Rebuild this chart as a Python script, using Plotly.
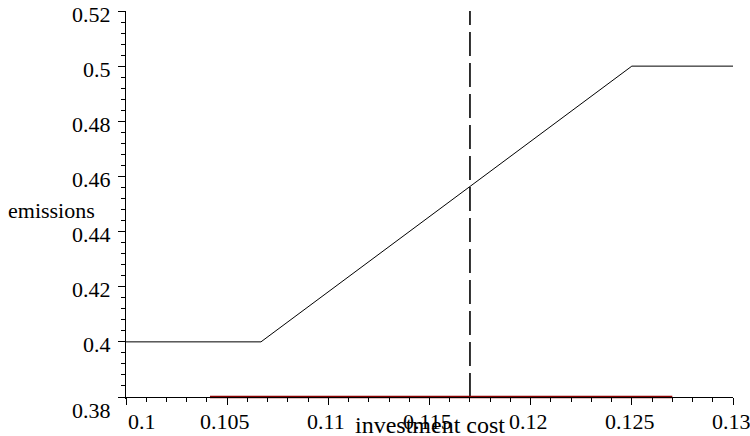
import plotly.graph_objects as go

# Data
curve_x = [0.1, 0.10667, 0.125, 0.13]
curve_y = [0.4, 0.4, 0.5, 0.5]
marker_x = [0.117, 0.117]
marker_y = [0.38, 0.52]
band_x = [0.10415, 0.127]
band_y = [0.38, 0.38]

x_ticks = [0.1, 0.105, 0.11, 0.115, 0.12, 0.125, 0.13]
x_tick_labels = ["0.1", "0.105", "0.11", "0.115", "0.12", "0.125", "0.13"]
y_ticks = [0.38, 0.4, 0.42, 0.44, 0.46, 0.48, 0.5, 0.52]
y_tick_labels = ["0.38", "0.4", "0.42", "0.44", "0.46", "0.48", "0.5", "0.52"]

FONT = "Liberation Serif"
FS = 22

Y0, Y1 = 0.38, 0.52
PAD = 0.000725  # small room below the x axis so the thick red line is not clipped
X_POS = PAD / (Y1 - Y0 + PAD)

fig = go.Figure()
fig.add_trace(go.Scatter(x=curve_x, y=curve_y, mode="lines",
                         line=dict(color="black", width=1)))
fig.add_trace(go.Scatter(x=marker_x, y=marker_y, mode="lines",
                         line=dict(color="black", width=1.6, dash="24px,7px")))
fig.add_trace(go.Scatter(x=band_x, y=band_y, mode="lines",
                         line=dict(color="#8b0000", width=2.6)))

ann = []
for v, t in zip(y_ticks, y_tick_labels):
    ann.append(dict(x=0, xref="paper", y=v, yref="y", text=t, showarrow=False,
                    xanchor="right", yanchor="middle", xshift=-13,
                    yshift=(-13 if v == Y0 else -3),
                    font=dict(family=FONT, size=FS, color="black")))
for v, t in zip(x_ticks, x_tick_labels):
    ann.append(dict(x=v, xref="x", y=Y0, yref="y", text=t, showarrow=False,
                    xanchor=("left" if v == 0.1 else "center"), yanchor="middle",
                    xshift=(0 if v == 0.1 else -2), yshift=-24,
                    font=dict(family=FONT, size=FS, color="black")))
ann.append(dict(x=0, xref="paper", y=0.4475, yref="y", text="emissions", showarrow=False,
                xanchor="right", yanchor="middle", xshift=-29,
                font=dict(family=FONT, size=FS, color="black")))
ann.append(dict(x=0.115, xref="x", y=Y0, yref="y", text="investment cost", showarrow=False,
                xanchor="center", yanchor="middle", yshift=-28,
                font=dict(family=FONT, size=24, color="black")))

fig.update_layout(
    width=750, height=436,
    margin=dict(l=126, r=17, t=11, b=37),
    paper_bgcolor="white", plot_bgcolor="white",
    showlegend=False,
    annotations=ann,
    xaxis=dict(range=[0.1, 0.13], showgrid=False, zeroline=False,
               anchor="free", position=X_POS,
               showline=True, linecolor="black", linewidth=1,
               ticks="outside", ticklen=7, tickcolor="black", tickwidth=1,
               tickvals=x_ticks, showticklabels=False,
               minor=dict(dtick=0.001, tick0=0.1, ticks="outside", ticklen=4,
                          tickcolor="black", tickwidth=1, showgrid=False)),
    yaxis=dict(range=[Y0 - PAD, Y1], showgrid=False, zeroline=False,
               showline=True, linecolor="black", linewidth=1,
               ticks="outside", ticklen=7, tickcolor="black", tickwidth=1,
               tickvals=y_ticks, showticklabels=False,
               minor=dict(dtick=0.004, tick0=0.38, ticks="outside", ticklen=4,
                          tickcolor="black", tickwidth=1, showgrid=False)),
)

fig.write_html("out.html", config={"displayModeBar": False},
               post_script="document.body.style.margin='0';document.body.style.overflow='hidden';")
